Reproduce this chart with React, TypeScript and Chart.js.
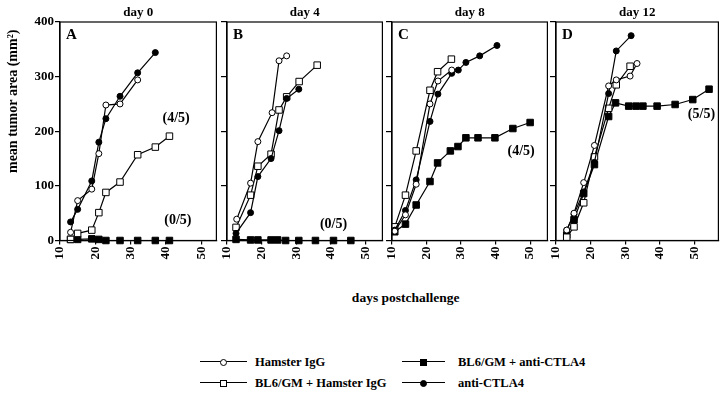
import { useEffect, useRef } from 'react';
import { Chart, registerables } from 'chart.js';
Chart.register(...registerables);

const FONT = '"Liberation Serif", "Times New Roman", serif';

const panelTitles = ['day 0', 'day 4', 'day 8', 'day 12'];
const panelLetters = ['A', 'B', 'C', 'D'];
const seriesNames = ['Hamster IgG', 'BL6/GM + Hamster IgG', 'BL6/GM + anti-CTLA4', 'anti-CTLA4'];
const xTicks = [10, 20, 30, 40, 50];
const yTicks = [0, 100, 200, 300, 400];
const yTitle = 'mean tumor area (mm²)';
const xTitle = 'days postchallenge';

// Panel A — day 0
const dayA_ham = [13, 15, 19, 21, 23, 27, 32];
const areaA_ham = [15, 73, 94, 159, 248, 250, 294];
const dayA_bl6ham = [13, 15, 19, 21, 23, 27, 32, 37, 41];
const areaA_bl6ham = [2, 13, 19, 51, 88, 107, 157, 171, 191];
const dayA_bl6anti = [13, 15, 19, 21, 23, 27, 32, 37, 41];
const areaA_bl6anti = [2, 2, 3, 2, 0, 0, 0, 0, 0];
const dayA_anti = [13, 15, 19, 21, 23, 27, 32, 37];
const areaA_anti = [34, 57, 109, 180, 223, 264, 307, 344];

// Panel B — day 4
const dayB_ham = [12.8, 16.8, 18.9, 23, 25, 27.2];
const areaB_ham = [39, 105, 181, 234, 329, 338];
const dayB_bl6ham = [12.6, 16.8, 18.9, 22.7, 25, 27.2, 30.8, 36];
const areaB_bl6ham = [24, 83, 136, 158, 239, 263, 291, 321];
const dayB_bl6anti = [12.6, 16.8, 18.9, 22.7, 24.6, 26.9, 30.7, 35.5, 40.7, 45.7];
const areaB_bl6anti = [2, 1, 1, 1, 1, 0, 0, 0, 0, 0];
const dayB_anti = [12.6, 16.8, 18.9, 22.7, 25, 27.2, 30.7];
const areaB_anti = [13, 51, 117, 150, 201, 260, 277];

// Panel C — day 8
const dayC_ham = [10.8, 13.9, 17, 21, 23.3, 27.3];
const areaC_ham = [17, 47, 103, 250, 292, 312];
const dayC_bl6ham = [10.8, 13.9, 17, 21, 23.2, 27.2];
const areaC_bl6ham = [25, 83, 164, 275, 309, 332];
const dayC_bl6anti = [10.8, 13.9, 17, 21, 23.2, 26.9, 29.1, 31.4, 34.9, 39.8, 45, 50];
const areaC_bl6anti = [16, 30, 65, 108, 142, 164, 172, 188, 188, 188, 205, 216];
const dayC_anti = [10.8, 13.9, 17, 21, 23.3, 27.3, 29.2, 31.4, 35.4, 40.4];
const areaC_anti = [19, 55, 111, 218, 268, 306, 312, 326, 338, 357];

// Panel D — day 12
const dayD_ham = [13.1, 15.2, 18, 21.1, 25.2, 27.4, 31.4, 33.4];
const areaD_ham = [19, 50, 106, 174, 283, 294, 301, 324];
const dayD_bl6ham = [13.1, 15.2, 18, 21.1, 25.2, 27.4, 31.4];
const areaD_bl6ham = [6, 25, 69, 153, 242, 285, 319];
const dayD_bl6anti = [13.1, 15.2, 18, 21.1, 25.2, 27.2, 31, 33.1, 35.1, 39.2, 44.4, 49.5, 54.2];
const areaD_bl6anti = [10, 38, 86, 139, 227, 252, 246, 246, 246, 246, 249, 258, 277];
const dayD_anti = [13.1, 15.2, 18, 21.1, 25.2, 27.4, 31.7];
const areaD_anti = [19, 48, 89, 143, 269, 347, 375];

// Survival notes per panel (text, day, area)
const notesText = [['(4/5)', '(0/5)'], ['(0/5)'], ['(4/5)'], ['(5/5)']];
const notesDay = [[42.9, 43.4], [40.7], [47.4], [52]];
const notesArea = [[223, 37.6], [29.7], [163], [230]];

const panelSeries = [
  [[dayA_ham, areaA_ham], [dayA_bl6ham, areaA_bl6ham], [dayA_bl6anti, areaA_bl6anti], [dayA_anti, areaA_anti]],
  [[dayB_ham, areaB_ham], [dayB_bl6ham, areaB_bl6ham], [dayB_bl6anti, areaB_bl6anti], [dayB_anti, areaB_anti]],
  [[dayC_ham, areaC_ham], [dayC_bl6ham, areaC_bl6ham], [dayC_bl6anti, areaC_bl6anti], [dayC_anti, areaC_anti]],
  [[dayD_ham, areaD_ham], [dayD_bl6ham, areaD_bl6ham], [dayD_bl6anti, areaD_bl6anti], [dayD_anti, areaD_anti]],
];

// layout of panels: chart-area left/right and x max
const layoutL = [60, 227, 392, 556];
const layoutR = [220, 386, 551, 722];
const xMax = [54.3, 54.8, 55, 56.9];
const axisW = [60, 6, 6, 6];
const PAD_R = 2;
const CANVAS_H = 270;

const seriesStyle = [
  { pointStyle: 'circle', pointRadius: 3, fill: '#fff' },
  { pointStyle: 'rect', pointRadius: 4.6, fill: '#fff' },
  { pointStyle: 'rect', pointRadius: 4.6, fill: '#000' },
  { pointStyle: 'circle', pointRadius: 3, fill: '#000' },
];
const drawOrder = [0, 3, 1, 2];

function makePlugin(idx: number) {
  return {
    id: 'deco' + idx,
    afterDraw(chart: any) {
      const { ctx, chartArea: ca, scales } = chart;
      ctx.save();
      ctx.strokeStyle = '#000';
      ctx.lineWidth = 1.2;
      ctx.strokeRect(ca.left, ca.top, ca.right - ca.left, ca.bottom - ca.top);
      ctx.fillStyle = '#000';
      ctx.textBaseline = 'middle';
      ctx.textAlign = 'center';
      ctx.font = `bold 13px ${FONT}`;
      ctx.fillText(panelTitles[idx], (ca.left + ca.right) / 2, 13);
      ctx.textAlign = 'left';
      ctx.font = `bold 15px ${FONT}`;
      ctx.fillText(panelLetters[idx], ca.left + 6, ca.top + 13);
      ctx.textAlign = 'center';
      ctx.font = `bold 14px ${FONT}`;
      notesText[idx].forEach((t, i) => {
        ctx.fillText(t, scales.x.getPixelForValue(notesDay[idx][i]), scales.y.getPixelForValue(notesArea[idx][i]));
      });
      if (idx === 0) {
        ctx.translate(13, (ca.top + ca.bottom) / 2 - 30);
        ctx.rotate(-Math.PI / 2);
        ctx.font = `bold 14px ${FONT}`;
        ctx.fillText(yTitle, 0, 0);
      }
      ctx.restore();
    },
  };
}

function Panel({ idx }: { idx: number }) {
  const ref = useRef<HTMLCanvasElement>(null);
  const w = axisW[idx] + (layoutR[idx] - layoutL[idx]) + PAD_R;
  const left = layoutL[idx] - axisW[idx];
  useEffect(() => {
    if (!ref.current) return;
    const font = { family: FONT, weight: 'bold' as const, size: 13 };
    const datasets = drawOrder.map((s) => {
      const [xs, ys] = panelSeries[idx][s];
      const st = seriesStyle[s];
      return {
        label: seriesNames[s],
        data: xs.map((x: number, i: number) => ({ x, y: ys[i] })),
        showLine: true,
        borderColor: '#000',
        borderWidth: 1.2,
        pointStyle: st.pointStyle,
        pointRadius: st.pointRadius,
        pointBackgroundColor: st.fill,
        pointBorderColor: '#000',
        pointBorderWidth: 1,
        tension: 0,
        clip: false as any,
      };
    });
    const chart = new Chart(ref.current, {
      type: 'scatter',
      data: { datasets } as any,
      plugins: [makePlugin(idx)],
      options: {
        animation: false,
        responsive: false,
        maintainAspectRatio: false,
        events: [],
        layout: { padding: { top: 22, right: PAD_R, left: 0, bottom: 0 } },
        plugins: { legend: { display: false }, tooltip: { enabled: false }, title: { display: false } },
        scales: {
          x: {
            type: 'linear',
            min: 10,
            max: xMax[idx],
            afterBuildTicks: (s: any) => { s.ticks = xTicks.map((v) => ({ value: v })); },
            afterFit: (s: any) => { s.height = CANVAS_H - 240.5; s.paddingLeft = 0; s.paddingRight = 0; },
            ticks: { display: true, minRotation: 90, maxRotation: 90, autoSkip: false, font, color: '#000', padding: 2 },
            grid: { drawOnChartArea: false, drawTicks: true, tickLength: 4, color: '#000', lineWidth: 1.2 },
            border: { display: true, color: '#000', width: 1.2 },
          },
          y: {
            type: 'linear',
            min: 0,
            max: 400,
            afterBuildTicks: (s: any) => { s.ticks = yTicks.map((v) => ({ value: v })); },
            afterFit: (s: any) => { s.width = axisW[idx]; s.paddingTop = 0; s.paddingBottom = 0; },
            ticks: { display: idx === 0, font, color: '#000', padding: 1 },
            grid: { drawOnChartArea: false, drawTicks: true, tickLength: idx === 0 ? 5 : 6, color: '#000', lineWidth: 1.2 },
            border: { display: true, color: '#000', width: 1.2 },
          },
        },
      } as any,
    });
    return () => chart.destroy();
  }, [idx]);
  return (
    <canvas
      ref={ref}
      width={w}
      height={CANVAS_H}
      style={{ position: 'absolute', left, top: 0, width: w, height: CANVAS_H }}
    />
  );
}

function LegendMarker({ s, cx, cy, lineL, lineR }: { s: number; cx: number; cy: number; lineL: number; lineR: number }) {
  const st = seriesStyle[s];
  const size = st.pointStyle === 'rect' ? 7 : 7;
  return (
    <>
      <div style={{ position: 'absolute', left: lineL, top: cy - 0.6, width: lineR - lineL, height: 0, borderTop: '1.2px solid #000' }} />
      <div
        style={{
          position: 'absolute',
          left: cx - size / 2,
          top: cy - size / 2,
          width: size,
          height: size,
          boxSizing: 'border-box',
          border: '1px solid #000',
          background: st.fill,
          borderRadius: st.pointStyle === 'circle' ? '50%' : 0,
        }}
      />
    </>
  );
}

const textStyle = (x: number, y: number, size: number): React.CSSProperties => ({
  position: 'absolute',
  left: x,
  top: y,
  transform: 'translateY(-50%)',
  font: `bold ${size}px ${FONT}`,
  lineHeight: '16px',
  whiteSpace: 'nowrap',
  color: '#000',
});

export default function App() {
  const legendRows = [362, 383];
  return (
    <div style={{ position: 'fixed', left: 0, top: 0, width: 720, height: 402, overflow: 'hidden', background: '#fff' }}>
      {[0, 1, 2, 3].map((i) => (
        <Panel key={i} idx={i} />
      ))}
      <div style={{ ...textStyle(405.7, 298, 13.5), transform: 'translate(-50%, -50%)' }}>{xTitle}</div>
      <LegendMarker s={0} cx={223.5} cy={legendRows[0]} lineL={200} lineR={247} />
      <div style={textStyle(255, legendRows[0], 12.5)}>{seriesNames[0]}</div>
      <LegendMarker s={1} cx={223.5} cy={legendRows[1]} lineL={200} lineR={247} />
      <div style={textStyle(255, legendRows[1], 12.5)}>{seriesNames[1]}</div>
      <LegendMarker s={2} cx={423} cy={legendRows[0]} lineL={402} lineR={445} />
      <div style={textStyle(458, legendRows[0], 12.5)}>{seriesNames[2]}</div>
      <LegendMarker s={3} cx={423} cy={legendRows[1]} lineL={402} lineR={445} />
      <div style={textStyle(458, legendRows[1], 12.5)}>{seriesNames[3]}</div>
    </div>
  );
}
